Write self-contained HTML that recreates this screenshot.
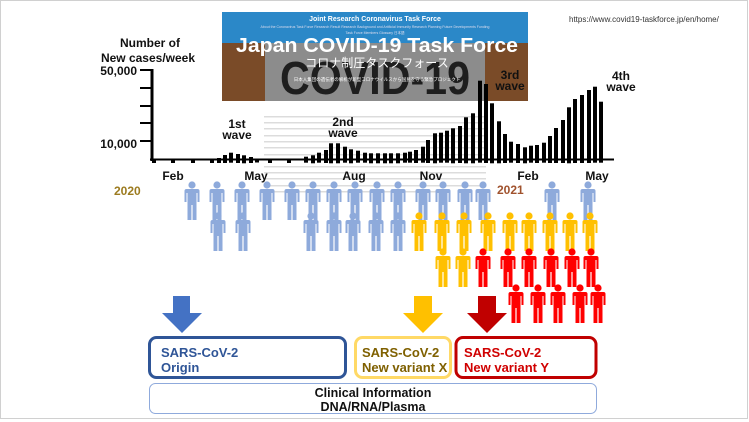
<!DOCTYPE html>
<html><head><meta charset="utf-8"><style>
body{margin:0;width:749px;height:422px;background:#fff;overflow:hidden}
svg{display:block}
text{font-family:"Liberation Sans","Noto Sans CJK JP",sans-serif}
</style></head><body>
<svg width="749" height="422" viewBox="0 0 749 422" xmlns="http://www.w3.org/2000/svg">
<defs>
<g id="p">
<circle cx="0" cy="0" r="3.6"/>
<path d="M-7.5,6 Q-7.5,4 -5.5,4 L5.5,4 Q7.5,4 7.5,6 L7.5,17 L5.5,17 L5.5,8 L4.5,8 L4.5,35 L0.6,35 L0.6,20 L-0.6,20 L-0.6,35 L-4.5,35 L-4.5,8 L-5.5,8 L-5.5,17 L-7.5,17 Z"/>
</g>
</defs>
<rect x="0.5" y="0.5" width="747" height="418" fill="none" stroke="#d0d0d0"/>
<!-- screenshot -->
<rect x="222" y="12" width="306" height="89" fill="#7a4b28"/>
<rect x="222" y="12" width="306" height="31" fill="#2b88c8"/>
<rect x="265" y="43" width="220" height="58" fill="#8c8c8c"/>
<text x="375" y="21" font-size="7" font-weight="bold" fill="#fff" text-anchor="middle">Joint Research Coronavirus Task Force</text>
<text x="375" y="28" font-size="3.5" fill="#dde" text-anchor="middle">About the Coronavirus Task Force   Research Result   Research Background and Artificial Immunity   Research Planning   Future Developments   Funding</text>
<text x="375" y="34" font-size="3.5" fill="#dde" text-anchor="middle">Task Force Members   Glossary   日本語</text>
<text x="375" y="94" font-size="46" font-weight="bold" fill="#1e1e1e" text-anchor="middle" textLength="190" lengthAdjust="spacingAndGlyphs">COVID-19</text>
<text x="377" y="52" font-size="20" font-weight="bold" fill="#fff" text-anchor="middle" textLength="282" lengthAdjust="spacingAndGlyphs">Japan COVID-19 Task Force</text>
<text x="377" y="67" font-size="12" fill="#fff" text-anchor="middle">コロナ制圧タスクフォース</text>
<text x="377" y="81" font-size="4.5" fill="#fff" text-anchor="middle">日本人集団の遺伝者の解析が新型コロナウイルスから国民を守る緊急プロジェクト</text>
<!-- faint text block -->
<g fill="#dcdcdc">
<rect x="264" y="116" width="222" height="1.5"/><rect x="264" y="122" width="222" height="1.5"/><rect x="264" y="128" width="222" height="1.5"/><rect x="264" y="135" width="222" height="1.5"/><rect x="264" y="141" width="222" height="1.5"/><rect x="264" y="147" width="222" height="1.5"/><rect x="264" y="154" width="222" height="1.5"/><rect x="264" y="166" width="222" height="1.5"/><rect x="264" y="172" width="222" height="1.5"/><rect x="264" y="178" width="222" height="1.5"/><rect x="264" y="185" width="222" height="1.5"/><rect x="264" y="191" width="180" height="1.5"/>
</g>
<text x="569" y="22" font-size="8" fill="#333">https://www.covid19-taskforce.jp/en/home/</text>
<!-- axis -->
<g font-size="12" font-weight="bold" fill="#111">
<text x="150" y="47" text-anchor="middle">Number of</text>
<text x="148" y="62" text-anchor="middle">New cases/week</text>
<text x="137" y="75" text-anchor="end">50,000</text>
<text x="137" y="148" text-anchor="end">10,000</text>
</g>
<g fill="#000">
<rect x="150.5" y="69" width="3" height="92"/>
<rect x="140" y="69" width="12" height="2"/><rect x="140" y="87" width="12" height="2"/><rect x="140" y="105" width="12" height="2"/><rect x="140" y="122" width="12" height="2"/><rect x="140" y="140" width="12" height="2"/>
<rect x="150" y="158.5" width="464" height="2"/>
<rect x="152" y="159" width="4" height="4"/><rect x="171" y="159" width="4" height="4"/><rect x="191" y="159" width="4" height="4"/><rect x="210" y="159" width="4" height="4"/>
<rect x="268" y="159" width="4" height="4"/><rect x="287" y="159" width="4" height="4"/>
<rect x="217" y="158" width="4" height="5"/><rect x="223" y="155" width="4" height="8"/><rect x="229" y="152.7" width="4" height="10"/><rect x="236" y="154" width="4" height="9"/><rect x="242" y="155.3" width="4" height="8"/><rect x="249" y="157" width="4" height="6"/><rect x="255" y="158.5" width="4" height="4"/>
<rect x="304" y="156.7" width="4" height="6"/><rect x="311" y="155.3" width="4" height="8"/><rect x="317" y="152.7" width="4" height="10"/><rect x="324" y="150" width="4" height="13"/><rect x="329" y="143.3" width="4" height="20"/><rect x="336" y="143.3" width="4" height="20"/><rect x="343" y="146.7" width="4" height="16"/><rect x="349" y="149.3" width="4" height="14"/><rect x="356" y="150.7" width="4" height="12"/><rect x="363" y="152.7" width="4" height="10"/><rect x="369" y="153.3" width="4" height="10"/><rect x="376" y="153.3" width="4" height="10"/><rect x="383" y="153.3" width="4" height="10"/><rect x="389" y="153.3" width="4" height="10"/><rect x="396" y="153.3" width="4" height="10"/><rect x="403" y="152.7" width="4" height="10"/><rect x="408" y="151.7" width="4" height="11"/><rect x="414" y="150" width="4" height="13"/><rect x="421" y="146.7" width="4" height="16"/><rect x="426" y="140" width="4" height="23"/><rect x="433" y="133.3" width="4" height="30"/><rect x="439" y="132.7" width="4" height="30"/><rect x="445" y="130.7" width="4" height="32"/><rect x="451" y="128.3" width="4" height="35"/><rect x="458" y="126" width="4" height="37"/><rect x="464" y="117.3" width="4" height="46"/><rect x="471" y="113.3" width="4" height="50"/><rect x="478" y="80.7" width="4" height="82"/><rect x="484" y="84" width="4" height="79"/><rect x="490" y="103.3" width="4" height="60"/><rect x="497" y="121.3" width="4" height="42"/><rect x="503" y="134" width="4" height="29"/><rect x="509" y="141.7" width="4" height="21"/><rect x="516" y="144" width="4" height="19"/><rect x="523" y="147.3" width="4" height="16"/><rect x="529" y="145.7" width="4" height="17"/><rect x="535" y="145" width="4" height="18"/><rect x="542" y="142.7" width="4" height="20"/><rect x="548" y="136" width="4" height="27"/><rect x="554" y="128" width="4" height="35"/><rect x="561" y="120" width="4" height="43"/><rect x="567" y="107.3" width="4" height="56"/><rect x="573" y="99" width="4" height="64"/><rect x="580" y="95" width="4" height="68"/><rect x="587" y="90" width="4" height="73"/><rect x="593" y="86.7" width="4" height="76"/><rect x="599" y="101.7" width="4" height="61"/>
</g>
<g font-size="12" font-weight="bold" fill="#111" text-anchor="middle">
<text x="237" y="128">1st</text><text x="237" y="139">wave</text>
<text x="343" y="126">2nd</text><text x="343" y="137">wave</text>
<text x="510" y="79">3rd</text><text x="510" y="90">wave</text>
<text x="621" y="80">4th</text><text x="621" y="91">wave</text>
<text x="173" y="180">Feb</text><text x="256" y="180">May</text><text x="354" y="180">Aug</text><text x="431" y="180">Nov</text><text x="528" y="180">Feb</text><text x="597" y="180">May</text>
</g>
<text x="114" y="195" font-size="12" font-weight="bold" fill="#9c7b1f">2020</text>
<text x="497" y="194" font-size="12" font-weight="bold" fill="#a0522d">2021</text>
<!-- people -->
<g fill="#8eaadb">
<use href="#p" x="192" y="185"/><use href="#p" x="217" y="185"/><use href="#p" x="242" y="185"/><use href="#p" x="267" y="185"/><use href="#p" x="292" y="185"/><use href="#p" x="313" y="185"/><use href="#p" x="334" y="185"/><use href="#p" x="355" y="185"/><use href="#p" x="377" y="185"/><use href="#p" x="398" y="185"/><use href="#p" x="423" y="185"/><use href="#p" x="443" y="185"/><use href="#p" x="465" y="185"/><use href="#p" x="483" y="185"/><use href="#p" x="552" y="185"/><use href="#p" x="588" y="185"/>
<use href="#p" x="218" y="216"/><use href="#p" x="243" y="216"/><use href="#p" x="311" y="216"/><use href="#p" x="334" y="216"/><use href="#p" x="353" y="216"/><use href="#p" x="376" y="216"/><use href="#p" x="398" y="216"/>
</g>
<g fill="#ffc000">
<use href="#p" x="419" y="216"/><use href="#p" x="442" y="216"/><use href="#p" x="464" y="216"/><use href="#p" x="488" y="216"/><use href="#p" x="510" y="216"/><use href="#p" x="529" y="216"/><use href="#p" x="550" y="216"/><use href="#p" x="570" y="216"/><use href="#p" x="590" y="216"/>
<use href="#p" x="443" y="252"/><use href="#p" x="463" y="252"/>
</g>
<g fill="#ff0000">
<use href="#p" x="483" y="252"/><use href="#p" x="508" y="252"/><use href="#p" x="529" y="252"/><use href="#p" x="551" y="252"/><use href="#p" x="572" y="252"/><use href="#p" x="591" y="252"/>
<use href="#p" x="516" y="288"/><use href="#p" x="538" y="288"/><use href="#p" x="558" y="288"/><use href="#p" x="580" y="288"/><use href="#p" x="598" y="288"/>
</g>
<!-- arrows -->
<path d="M173,296 L190,296 L190,313 L202,313 L182,333 L162,313 L173,313 Z" fill="#4472c4"/>
<path d="M414,296 L432,296 L432,313 L443,313 L423,333 L403,313 L414,313 Z" fill="#ffc000"/>
<path d="M478,296 L496,296 L496,313 L507,313 L487,333 L467,313 L478,313 Z" fill="#c00000"/>
<!-- boxes -->
<rect x="149.5" y="337.5" width="196" height="40" rx="7" fill="#fff" stroke="#2f5597" stroke-width="3"/>
<text x="161" y="357" font-size="13" font-weight="bold" fill="#2f5597">SARS-CoV-2</text>
<text x="161" y="372" font-size="13" font-weight="bold" fill="#2f5597">Origin</text>
<rect x="355.5" y="337.5" width="95" height="40" rx="7" fill="#fff" stroke="#ffd966" stroke-width="3"/>
<text x="362" y="357" font-size="13" font-weight="bold" fill="#7f6000">SARS-CoV-2</text>
<text x="362" y="372" font-size="13" font-weight="bold" fill="#7f6000">New variant X</text>
<rect x="456" y="337.5" width="140" height="40" rx="7" fill="#fff" stroke="#c00000" stroke-width="3"/>
<text x="464" y="357" font-size="13" font-weight="bold" fill="#d00000">SARS-CoV-2</text>
<text x="464" y="372" font-size="13" font-weight="bold" fill="#d00000">New variant Y</text>
<rect x="149.5" y="383.5" width="447" height="30" rx="6" fill="#fff" stroke="#8faadc" stroke-width="1"/>
<text x="373" y="397" font-size="12.5" font-weight="bold" fill="#111" text-anchor="middle">Clinical Information</text>
<text x="373" y="411" font-size="12.5" font-weight="bold" fill="#111" text-anchor="middle">DNA/RNA/Plasma</text>
</svg>
</body></html>
